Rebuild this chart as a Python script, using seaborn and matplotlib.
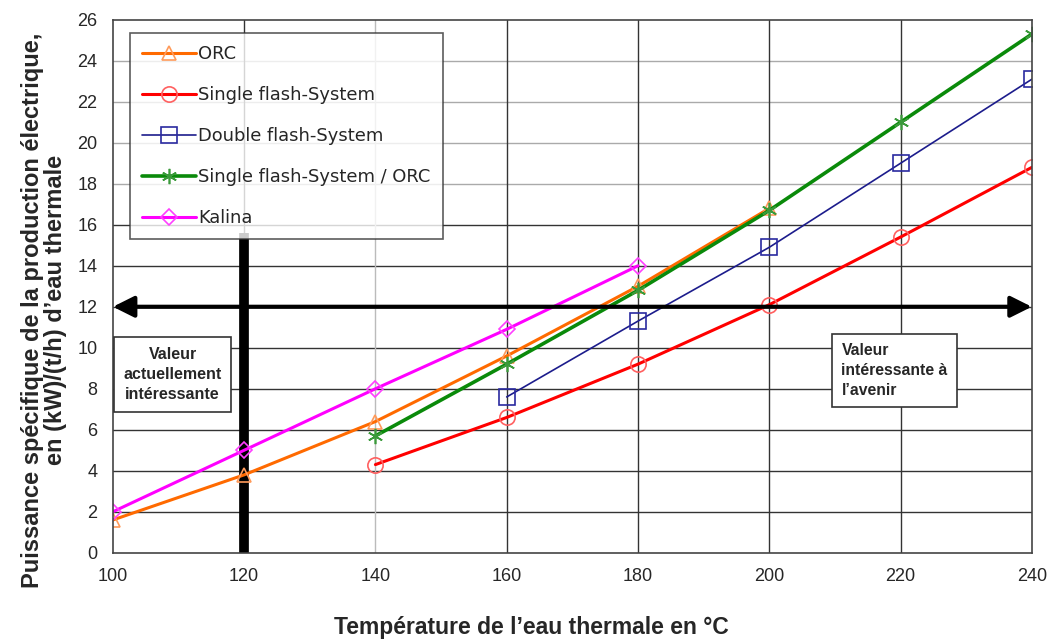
import numpy as np
import matplotlib
matplotlib.use('Agg')
import matplotlib.pyplot as plt
import pandas as pd
import seaborn as sns
from matplotlib.patches import FancyArrowPatch

# Daten
temp = [100, 120, 140, 160, 180, 200, 220, 240]

orc = [1.6, 3.8, 6.4, 9.6, 13.0, 16.8, None, None]
single_flash = [None, None, 4.3, 6.6, 9.2, 12.1, 15.4, 18.8]
double_flash = [None, None, None, 7.6, 11.3, 14.9, 19.0, 23.1]
sf_orc = [None, None, 5.7, 9.2, 12.8, 16.7, 21.0, 25.3]
kalina = [2.0, 5.0, 8.0, 10.9, 14.0, None, None, None]

series_names = ['ORC', 'Single flash-System', 'Double flash-System',
                'Single flash-System / ORC', 'Kalina']
x_ticks = [100, 120, 140, 160, 180, 200, 220, 240]
y_ticks = list(range(0, 27, 2))

df = pd.DataFrame({'T': temp, 'ORC': orc, 'Single flash-System': single_flash,
                   'Double flash-System': double_flash,
                   'Single flash-System / ORC': sf_orc, 'Kalina': kalina})
long_df = df.melt(id_vars='T', var_name='System', value_name='P').dropna()

# Stil pro Linie
styles = {
    'ORC': dict(color='#ff6a00', mec='#ff9a5a', marker='^', lw=2.2, ms=10),
    'Single flash-System': dict(color='#ff0000', mec='#ff6060', marker='o', lw=2.2, ms=11),
    'Double flash-System': dict(color='#1c1c8c', mec='#2a2aa0', marker='s', lw=1.2, ms=11),
    'Single flash-System / ORC': dict(color='#0a8a0a', mec='#3a9a3a', marker=(6, 2, 0), lw=2.6, ms=11),
    'Kalina': dict(color='#ff00ff', mec='#ff40ff', marker='D', lw=2.2, ms=8),
}

sns.set_style('white')
plt.rcParams['font.family'] = ['Liberation Sans', 'DejaVu Sans']

fig = plt.figure(figsize=(10.55, 6.39), dpi=100)
ax = fig.add_axes([0.107, 0.135, 0.871, 0.834])

handles = []
for name in series_names:
    s = styles[name]
    sub = long_df[long_df['System'] == name]
    sns.lineplot(data=sub, x='T', y='P', ax=ax, color=s['color'], lw=s['lw'],
                 marker=s['marker'], markersize=s['ms'], markerfacecolor='none',
                 markeredgecolor=s['mec'], markeredgewidth=1.2, label=name, legend=False)
    handles.append(ax.lines[-1])

ax.set_xlim(100, 240)
ax.set_ylim(0, 26)
ax.set_xticks(x_ticks)
ax.set_yticks(y_ticks)
ax.tick_params(axis='both', labelsize=13, direction='inout', length=6,
               width=1, color='#333333', pad=8)
for sp in ax.spines.values():
    sp.set_color('#444444')
    sp.set_linewidth(1.2)

# Gitter
for yv in y_ticks[1:-1]:
    ax.axhline(yv, color='#333333' if yv <= 16 else '#aaaaaa', lw=1.0, zorder=0)
for xv in x_ticks[1:-1]:
    ax.axvline(xv, color='#bbbbbb' if xv == 140 else '#333333', lw=1.0, zorder=0)

# Dicke Linie bei 120 °C
ax.plot([120, 120], [0, 15.6], color='black', lw=7, solid_capstyle='butt', zorder=1)

# Doppelpfeil bei 12
arrow = FancyArrowPatch((100, 12), (240, 12), arrowstyle='<|-|>', mutation_scale=32,
                        color='black', lw=3, shrinkA=0, shrinkB=0, zorder=3, clip_on=False)
ax.add_patch(arrow)

ax.text(109.1, 8.7, 'Valeur\nactuellement\nintéressante', ha='center', va='center',
        fontsize=11.5, fontweight='bold', linespacing=1.45, zorder=4,
        bbox=dict(boxstyle='square,pad=0.6', fc='white', ec='#333333', lw=1.2))
ax.text(211.0, 8.9, 'Valeur\nintéressante à\nl\u2019avenir', ha='left', va='center',
        fontsize=11.3, fontweight='bold', linespacing=1.4, zorder=4,
        bbox=dict(boxstyle='square,pad=0.6', fc='white', ec='#333333', lw=1.2))

ax.set_xlabel('Température de l\u2019eau thermale en °C', fontsize=16.5,
              fontweight='bold', va='center')
ax.xaxis.set_label_coords(0.455, -0.141)
ax.set_ylabel('Puissance spécifique de la production électrique,\nen (kW)/(t/h) d\u2019eau thermale',
              fontsize=17, fontweight='bold', linespacing=1.0, va='center')
ax.yaxis.set_label_coords(-0.075, 0.455)

leg = ax.legend(handles=handles, labels=series_names, loc='upper left',
                bbox_to_anchor=(0.0185, 0.976), labelspacing=1.28,
                prop={'family': 'DejaVu Sans', 'size': 12.9},
                frameon=True, fancybox=False, handlelength=3.0, handletextpad=0.1,
                borderpad=0.7, borderaxespad=0)
leg.get_frame().set_edgecolor('#333333')
leg.get_frame().set_linewidth(1.2)
leg.set_zorder(5)

fig.savefig('out.png', dpi=100)
